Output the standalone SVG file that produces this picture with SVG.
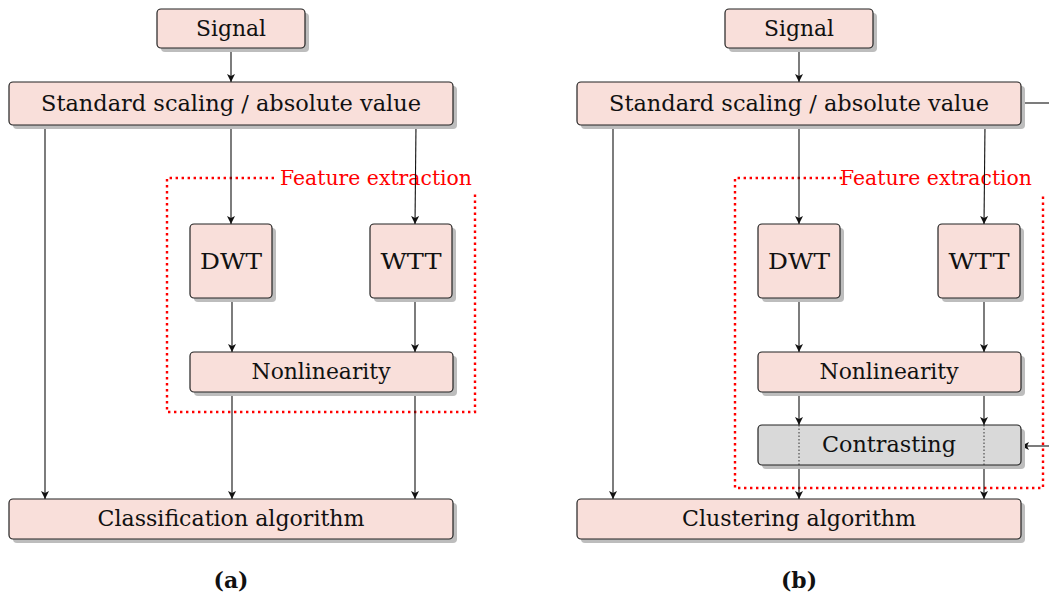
<svg xmlns="http://www.w3.org/2000/svg" width="1049" height="600" viewBox="0 0 1049 600">
  <style>
    .box { fill: #f9dfda; stroke: #222; stroke-width: 1.2; }
    .gray { fill: #d9d9d9; stroke: #222; stroke-width: 1.2; }
    .shadow { fill: #bdbdbd; }
    .lbl { font-family: 'DejaVu Serif', serif; font-size: 22px; fill: #111; text-anchor: middle; dominant-baseline: central; }
    .fe { font-family: 'DejaVu Serif', serif; font-size: 21px; fill: #ff0000; text-anchor: middle; dominant-baseline: central; }
    .cap { font-family: 'DejaVu Serif', serif; font-size: 22px; font-weight: bold; fill: #111; text-anchor: middle; dominant-baseline: central; }
    .edge { stroke: #111; stroke-width: 1.1; fill: none; }
    .arr { marker-end: url(#head); }
    .group { fill: none; stroke: #ff0000; stroke-width: 2.4; stroke-dasharray: 2.4 3.6; }
    .thin { stroke: #333; stroke-width: 1; stroke-dasharray: 1.5 2; fill: none; }
  </style>
  <defs>
    <marker id="head" viewBox="0 0 10 10" refX="10" refY="5" markerWidth="8" markerHeight="8" markerUnits="userSpaceOnUse" orient="auto">
      <path d="M0,0 L10,5 L0,10 L2.5,5 Z" fill="#111"/>
    </marker>
  </defs>

  <!-- feature extraction groups -->
  <g id="fe-a">
    <path class="group" d="M274,178 H167 V412 H475 V193"/>
    <text class="fe" x="376" y="178" textLength="192" lengthAdjust="spacingAndGlyphs">Feature extraction</text>
  </g>
  <g id="fe-b">
    <path class="group" d="M842,178 H735 V488 H1043 V193"/>
    <text class="fe" x="936" y="178" textLength="192" lengthAdjust="spacingAndGlyphs">Feature extraction</text>
  </g>

  <!-- connectors -->
  <g id="connectors">
    <!-- panel (a) -->
    <line class="edge arr" x1="231" y1="48" x2="231" y2="82"/>
    <line class="edge arr" x1="231" y1="125" x2="231" y2="224"/>
    <line class="edge arr" x1="416" y1="125" x2="415" y2="224"/>
    <line class="edge arr" x1="45" y1="125" x2="45" y2="499"/>
    <line class="edge arr" x1="232" y1="298" x2="232" y2="352"/>
    <line class="edge arr" x1="415" y1="298" x2="415" y2="352"/>
    <line class="edge arr" x1="232" y1="392" x2="232" y2="499"/>
    <line class="edge arr" x1="415" y1="392" x2="415" y2="499"/>
    <!-- panel (b) -->
    <line class="edge arr" x1="799" y1="48" x2="799" y2="82"/>
    <line class="edge arr" x1="799" y1="125" x2="799" y2="224"/>
    <line class="edge arr" x1="985" y1="125" x2="984" y2="224"/>
    <line class="edge arr" x1="613" y1="125" x2="613" y2="499"/>
    <line class="edge arr" x1="799" y1="298" x2="799" y2="352"/>
    <line class="edge arr" x1="984" y1="298" x2="984" y2="352"/>
    <line class="edge arr" x1="799" y1="392" x2="799" y2="425"/>
    <line class="edge arr" x1="984" y1="392" x2="984" y2="425"/>
    <line class="edge arr" x1="799" y1="465" x2="799" y2="499"/>
    <line class="edge arr" x1="984" y1="465" x2="984" y2="499"/>
    <line class="edge" x1="1021" y1="103" x2="1049" y2="103"/>
    <line class="edge arr" x1="1049" y1="446" x2="1021" y2="446"/>
  </g>

  <!-- panel (a) nodes -->
  <g id="signal-a">
    <rect class="shadow" x="161" y="13" width="148" height="39" rx="4"/>
    <rect class="box" x="157" y="9" width="148" height="39" rx="4"/>
    <text class="lbl" x="231" y="28" textLength="70" lengthAdjust="spacingAndGlyphs">Signal</text>
  </g>
  <g id="scaling-a">
    <rect class="shadow" x="13" y="86" width="444" height="43" rx="4"/>
    <rect class="box" x="9" y="82" width="444" height="43" rx="4"/>
    <text class="lbl" x="231" y="103" textLength="380" lengthAdjust="spacingAndGlyphs">Standard scaling / absolute value</text>
  </g>
  <g id="dwt-a">
    <rect class="shadow" x="194" y="228" width="82" height="74" rx="4"/>
    <rect class="box" x="190" y="224" width="82" height="74" rx="4"/>
    <text class="lbl" x="231" y="261" textLength="62" lengthAdjust="spacingAndGlyphs">DWT</text>
  </g>
  <g id="wtt-a">
    <rect class="shadow" x="374" y="228" width="82" height="74" rx="4"/>
    <rect class="box" x="370" y="224" width="82" height="74" rx="4"/>
    <text class="lbl" x="411" y="261" textLength="61" lengthAdjust="spacingAndGlyphs">WTT</text>
  </g>
  <g id="nonlin-a">
    <rect class="shadow" x="194" y="356" width="263" height="40" rx="4"/>
    <rect class="box" x="190" y="352" width="263" height="40" rx="4"/>
    <text class="lbl" x="321" y="371" textLength="139" lengthAdjust="spacingAndGlyphs">Nonlinearity</text>
  </g>
  <g id="classif-a">
    <rect class="shadow" x="13" y="503" width="444" height="40" rx="4"/>
    <rect class="box" x="9" y="499" width="444" height="40" rx="4"/>
    <text class="lbl" x="231" y="518" textLength="267" lengthAdjust="spacingAndGlyphs">Classification algorithm</text>
  </g>
  <text class="cap" x="231" y="580" textLength="35" lengthAdjust="spacingAndGlyphs">(a)</text>

  <!-- panel (b) nodes -->
  <g id="signal-b">
    <rect class="shadow" x="729" y="13" width="148" height="39" rx="4"/>
    <rect class="box" x="725" y="9" width="148" height="39" rx="4"/>
    <text class="lbl" x="799" y="28" textLength="70" lengthAdjust="spacingAndGlyphs">Signal</text>
  </g>
  <g id="scaling-b">
    <rect class="shadow" x="581" y="86" width="444" height="43" rx="4"/>
    <rect class="box" x="577" y="82" width="444" height="43" rx="4"/>
    <text class="lbl" x="799" y="103" textLength="380" lengthAdjust="spacingAndGlyphs">Standard scaling / absolute value</text>
  </g>
  <g id="dwt-b">
    <rect class="shadow" x="762" y="228" width="82" height="74" rx="4"/>
    <rect class="box" x="758" y="224" width="82" height="74" rx="4"/>
    <text class="lbl" x="799" y="261" textLength="62" lengthAdjust="spacingAndGlyphs">DWT</text>
  </g>
  <g id="wtt-b">
    <rect class="shadow" x="942" y="228" width="82" height="74" rx="4"/>
    <rect class="box" x="938" y="224" width="82" height="74" rx="4"/>
    <text class="lbl" x="979" y="261" textLength="61" lengthAdjust="spacingAndGlyphs">WTT</text>
  </g>
  <g id="nonlin-b">
    <rect class="shadow" x="762" y="356" width="263" height="40" rx="4"/>
    <rect class="box" x="758" y="352" width="263" height="40" rx="4"/>
    <text class="lbl" x="889" y="371" textLength="139" lengthAdjust="spacingAndGlyphs">Nonlinearity</text>
  </g>
  <g id="contrast-b">
    <rect class="shadow" x="762" y="429" width="263" height="40" rx="4"/>
    <rect class="gray" x="758" y="425" width="263" height="40" rx="4"/>
    <line class="thin" x1="799" y1="425" x2="799" y2="465"/>
    <line class="thin" x1="984" y1="425" x2="984" y2="465"/>
    <text class="lbl" x="889" y="444" textLength="134" lengthAdjust="spacingAndGlyphs">Contrasting</text>
  </g>
  <g id="cluster-b">
    <rect class="shadow" x="581" y="503" width="444" height="40" rx="4"/>
    <rect class="box" x="577" y="499" width="444" height="40" rx="4"/>
    <text class="lbl" x="799" y="518" textLength="234" lengthAdjust="spacingAndGlyphs">Clustering algorithm</text>
  </g>
  <text class="cap" x="799" y="580" textLength="36" lengthAdjust="spacingAndGlyphs">(b)</text>
</svg>
